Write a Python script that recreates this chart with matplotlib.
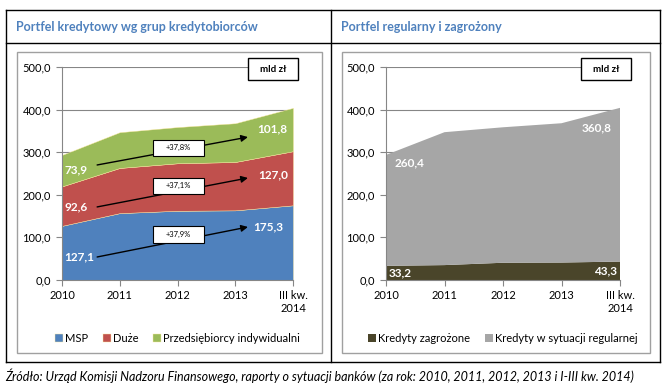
import matplotlib
matplotlib.use("Agg")
from matplotlib import pyplot
from matplotlib.patches import Rectangle
from matplotlib.lines import Line2D
import numpy

years = ["2010", "2011", "2012", "2013", "III kw.\n2014"]
msp = [127.1, 157.0, 162.5, 163.5, 175.3]
duze = [92.6, 106.0, 111.5, 113.5, 127.0]
indyw = [73.9, 84.0, 85.0, 91.0, 101.8]
zagrozone = [33.2, 35.0, 40.5, 41.0, 43.3]
regularne = [260.4, 312.0, 318.0, 327.0, 360.8]
growth = ["+37,9%", "+37,1%", "+37,8%"]

W, H = 667, 386
FONT = "Lato"
pyplot.rcParams["font.family"] = [FONT, "DejaVu Sans"]

def box(x0, y0, x1, y1):
    return [x0 / W, 1 - y1 / H, (x1 - x0) / W, (y1 - y0) / H]

def fmt(v):
    return ("%.1f" % v).replace(".", ",")

fig = pyplot.figure(figsize=(W / 100, H / 100), dpi=100)

# table frame
lines = [((6, 660), (10, 10)), ((6, 660), (43, 43)), ((6, 660), (362, 362)),
         ((6, 6), (10, 362)), ((660, 660), (10, 362)), ((331, 331), (10, 362))]
for xs, ys in lines:
    fig.add_artist(Line2D([x / W for x in xs], [1 - y / H for y in ys],
                          color="black", lw=1.0))
for x0, x1 in [(17, 322), (342, 650)]:
    fig.add_artist(Rectangle((x0 / W, 1 - 353 / H), (x1 - x0) / W, (353 - 52) / H,
                             fill=False, edgecolor="#a0a0a0", lw=1.0))

fig.text(16 / W, 1 - 27 / H, "Portfel kredytowy wg grup kredytobiorców",
         color="#4f81bd", fontsize=9, fontweight="bold", va="center")
fig.text(341 / W, 1 - 27 / H, "Portfel regularny i zagrożony",
         color="#4f81bd", fontsize=9, fontweight="bold", va="center")
fig.text(5 / W, 1 - 376 / H,
         "Źródło: Urząd Komisji Nadzoru Finansowego, raporty o sytuacji banków (za rok: 2010, 2011, 2012, 2013 i I-III kw. 2014)",
         fontsize=9, style="italic", va="center")

def setup(ax, bx):
    x = numpy.arange(len(years))
    ax.set_xlim(0, len(years) - 1)
    ax.set_ylim(0, 500)
    ax.set_yticks(numpy.arange(0, 501, 100))
    ax.set_yticklabels([fmt(v) for v in numpy.arange(0, 501, 100)], fontsize=8)
    ax.set_xticks(x)
    ax.set_xticklabels(years, fontsize=8, va="top")
    ax.tick_params(axis="both", length=4, color="#868686", width=0.8)
    ax.tick_params(axis="x", pad=3)
    ax.tick_params(axis="y", pad=4)
    for s in ["top", "right"]:
        ax.spines[s].set_visible(False)
    for s in ["left", "bottom"]:
        ax.spines[s].set_color("#868686")
        ax.spines[s].set_linewidth(0.8)
        ax.spines[s].set_zorder(5)
    ax.grid(axis="y", color="#868686", lw=0.8)
    ax.set_axisbelow(True)
    ax.add_patch(Rectangle((bx[0], 0.939), bx[1] - bx[0], 0.103, transform=ax.transAxes,
                           fc="white", ec="black", lw=1.0, clip_on=False, zorder=6))
    ax.text((bx[0] + bx[1]) / 2, 0.99, "mld zł", transform=ax.transAxes,
            ha="center", va="center", fontsize=7, fontweight="bold", zorder=7)
    return x

# left chart
ax1 = fig.add_axes(box(62, 67, 293, 280))
x = setup(ax1, (0.805, 1.022))
ax1.stackplot(x, msp, duze, indyw, colors=["#4f81bd", "#c0504d", "#9bbb59"],
              labels=["MSP", "Duże", "Przedsiębiorcy indywidualni"],
              edgecolor="#fde9a0", linewidth=0.3)
bases = [numpy.zeros(5), numpy.array(msp), numpy.array(msp) + numpy.array(duze)]
first_pos = [0.42, 0.47, 0.52]
last_pos = [0.71, 0.56, 0.51]
last_x = [3.83, 3.91, 3.91]
for i, serie in enumerate([msp, duze, indyw]):
    ax1.text(0.04, bases[i][0] + serie[0] * first_pos[i], fmt(serie[0]), color="white",
             fontsize=8.5, fontweight="bold", va="center", ha="left")
    ax1.text(last_x[i], bases[i][4] + serie[4] * last_pos[i], fmt(serie[4]), color="white",
             fontsize=8.5, fontweight="bold", va="center", ha="right")
arrows = [((0.152, 0.108), (0.805, 0.249), 0.175),
          ((0.152, 0.343), (0.805, 0.479), 0.404),
          ((0.152, 0.540), (0.805, 0.671), 0.582)]
for (s, e, by), g in zip(arrows, growth):
    ax1.annotate("", xy=e, xytext=s, xycoords="axes fraction",
                 arrowprops=dict(arrowstyle="-|>", color="black", lw=1.0,
                                 mutation_scale=10, shrinkA=0, shrinkB=0))
    ax1.add_patch(Rectangle((0.394, by), 0.221, 0.077, transform=ax1.transAxes,
                            fc="white", ec="black", lw=0.8, zorder=6))
    ax1.text(0.504, by + 0.0385, g, transform=ax1.transAxes, ha="center",
             va="center", fontsize=5.5, zorder=7)
ax1.legend(loc="upper center", bbox_to_anchor=(0.5, -0.2), ncol=3, frameon=False,
           fontsize=8, handlelength=0.7, handleheight=0.7, handletextpad=0.2,
           columnspacing=1.3)

# right chart
ax2 = fig.add_axes(box(386, 67, 620, 280))
x = setup(ax2, (0.833, 1.047))
ax2.stackplot(x, zagrozone, regularne, colors=["#4a452a", "#a6a6a6"],
              labels=["Kredyty zagrożone", "Kredyty w sytuacji regularnej"])
ax2.text(0.04, zagrozone[0] * 0.5, fmt(zagrozone[0]), color="white", fontsize=8.5,
         fontweight="bold", va="center", ha="left")
ax2.text(3.95, zagrozone[4] * 0.5, fmt(zagrozone[4]), color="white", fontsize=8.5,
         fontweight="bold", va="center", ha="right")
ax2.text(0.15, zagrozone[0] + regularne[0] * 0.93, fmt(regularne[0]), color="white",
         fontsize=8.5, fontweight="bold", va="center", ha="left")
ax2.text(3.85, zagrozone[4] + regularne[4] * 0.87, fmt(regularne[4]), color="white",
         fontsize=8.5, fontweight="bold", va="center", ha="right")
ax2.legend(loc="upper center", bbox_to_anchor=(0.5, -0.2), ncol=2, frameon=False,
           fontsize=8, handlelength=0.7, handleheight=0.7, handletextpad=0.2,
           columnspacing=1.3)

fig.savefig("out.png", dpi=100)
